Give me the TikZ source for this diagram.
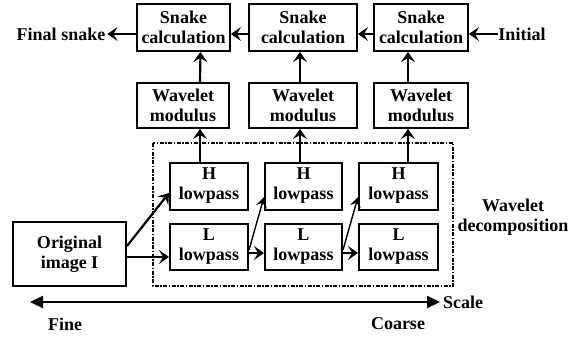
\documentclass[tikz,border=0pt]{standalone}
\usepackage{fontspec}
\setmainfont{Liberation Serif}
\usetikzlibrary{arrows.meta,positioning}
\tikzstyle{box_style0}=[draw, line width=2pt, align=center, inner sep=0pt,
font=\fontsize{18}{20}\selectfont\bfseries]
\tikzstyle{snakebox}=[box_style0, minimum height=47pt]
\tikzstyle{modbox}=[box_style0, minimum height=45pt]
\tikzstyle{passbox}=[box_style0, minimum height=47pt]
\tikzstyle{txt}=[inner sep=0pt, align=center, font=\fontsize{18}{20}\selectfont\bfseries]
\tikzstyle{myarrow}=[-{Stealth[length=10pt,width=14pt,inset=4pt]}, line width=2.2pt]
\tikzstyle{thinarrow}=[-{Stealth[length=10pt,width=11pt,inset=4pt]}, line width=1.4pt]
\tikzstyle{scalearrow}=[{Triangle[length=13pt,width=12pt]}-{Triangle[length=13pt,width=12pt]}, line width=2.2pt]
\tikzstyle{dashbox}=[line width=2pt, dash pattern=on 4pt off 1.5pt on 1.5pt off 1.5pt]
\begin{document}
\begin{tikzpicture}[x=1pt,y=-1pt]
		\useasboundingbox (0,0) rectangle (579,337);

		% snake calculation, coarse to fine
		\node[snakebox, minimum width=93pt] (S1) at (183.5,27.5) {Snake\\calculation};
		\node[snakebox, minimum width=108pt] (S2) at (303,27.5) {Snake\\calculation};
		\node[snakebox, minimum width=94pt] (S3) at (421,27.5) {Snake\\calculation};
		\node[txt] (init) at (522,34) {Initial};
		\node[txt] (final) at (61,34) {Final snake};
		\draw[myarrow] (init.west) -- (init.west -| S3.east);
		\draw[myarrow] ([yshift=-6.5pt]S3.west) -- ([yshift=-6.5pt]S2.east);
		\draw[myarrow] ([yshift=-6.5pt]S2.west) -- ([yshift=-6.5pt]S1.east);
		\draw[myarrow] ([yshift=-6.5pt]S1.west) -- ([xshift=2pt]final.east);

		% wavelet modulus
		\node[modbox, minimum width=92pt] (W1) at (183,105.5) {Wavelet\\modulus};
		\node[modbox, minimum width=108pt] (W2) at (303,105.5) {Wavelet\\modulus};
		\node[modbox, minimum width=94pt] (W3) at (421,105.5) {Wavelet\\modulus};
		\draw[myarrow] ([xshift=17pt]W1.north) -- ([xshift=17pt]S1.south);
		\draw[myarrow] ([xshift=-3pt]W2.north) -- ([xshift=-3pt]S2.south);
		\draw[myarrow] ([xshift=-13pt]W3.north) -- ([xshift=-13pt]S3.south);

		% wavelet decomposition
		\draw[dashbox] (153,143) rectangle (453,286);
		\node[txt] (dec) at (513,217) {Wavelet\\decomposition};

		\node[passbox, minimum width=78pt] (H1) at (209,186) {H\\lowpass};
		\node[passbox, minimum width=77pt] (H2) at (303.5,186) {H\\lowpass};
		\node[passbox, minimum width=79pt] (H3) at (398.5,186) {H\\lowpass};
		\node[passbox, minimum width=78pt, minimum height=46pt] (L1) at (209,247) {L\\lowpass};
		\node[passbox, minimum width=77pt, minimum height=46pt] (L2) at (303.5,247) {L\\lowpass};
		\node[passbox, minimum width=79pt, minimum height=46pt] (L3) at (398.5,247) {L\\lowpass};
		\draw[myarrow] ([xshift=-9pt]H1.north) -- ([xshift=17pt]W1.south);
		\draw[myarrow] ([xshift=-3.5pt]H2.north) -- ([xshift=-3pt]W2.south);
		\draw[myarrow] ([xshift=9.5pt]H3.north) -- ([xshift=-13pt]W3.south);

		\node[box_style0, minimum width=113pt, minimum height=64pt] (orig) at (69.5,254) {Original\\image I};
		\draw[myarrow] ([yshift=8pt]orig.east) -- ([yshift=-7pt]H1.west);
		\draw[myarrow] ([yshift=-3pt]orig.east) -- ([yshift=-3pt]orig.east -| L1.west);

		\draw[thinarrow] ([yshift=-3pt]L1.east) -- ([yshift=-11pt]H2.west);
		\draw[myarrow] ([yshift=-6pt]L1.east) -- ([yshift=-6pt]L2.west);
		\draw[thinarrow] ([yshift=-3pt]L2.east) -- ([yshift=-11pt]H3.west);
		\draw[myarrow] ([yshift=-6pt]L2.east) -- ([yshift=-6pt]L3.west);

		% scale axis
		\coordinate (fineend) at (30,302);
		\coordinate (coarseend) at (440,302);
		\draw[scalearrow] (fineend) -- (coarseend);
		\node[txt, right=3pt of coarseend] (scale) {Scale};
		\node[txt] (fine) at (65,324) {Fine};
		\node[txt] (coarse) at (398,324) {Coarse};

	\end{tikzpicture}
\end{document}
